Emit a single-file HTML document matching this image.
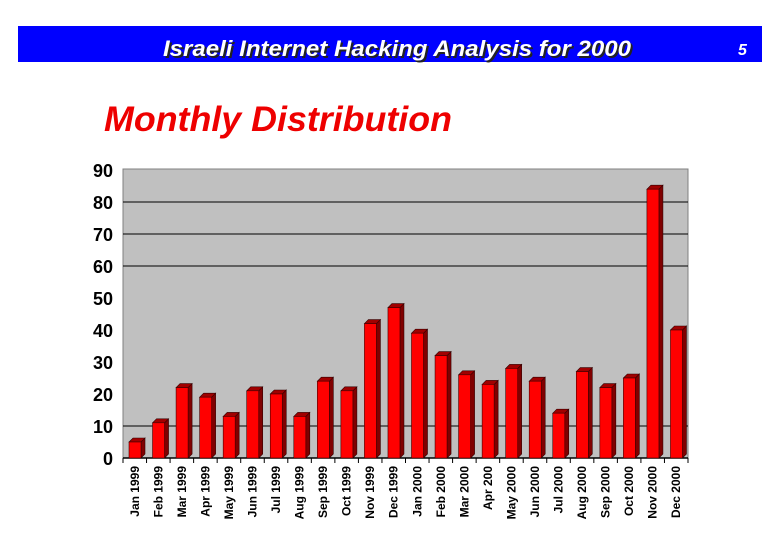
<!DOCTYPE html>
<html><head><meta charset="utf-8">
<style>
body{margin:0;width:780px;height:540px;background:#fff;overflow:hidden;font-family:"Liberation Sans",Arial,sans-serif;}
</style></head>
<body>
<svg width="780" height="540" viewBox="0 0 780 540">
<rect x="18" y="26" width="744" height="36" fill="#0000ff"/>
<text x="165" y="58" font-size="22" font-weight="bold" font-style="italic" fill="#222" textLength="468" lengthAdjust="spacingAndGlyphs">Israeli Internet Hacking Analysis for 2000</text>
<text x="163" y="56" font-size="22" font-weight="bold" font-style="italic" fill="#fff" textLength="468" lengthAdjust="spacingAndGlyphs">Israeli Internet Hacking Analysis for 2000</text>
<text x="738" y="55" font-size="16" font-weight="bold" font-style="italic" fill="#fff">5</text>
<text x="104" y="131" font-size="35" font-weight="bold" font-style="italic" fill="#ee0000" textLength="348" lengthAdjust="spacingAndGlyphs">Monthly Distribution</text>
<g id="chart"></g>
</svg>
<script>
const categories=["Jan 1999","Feb 1999","Mar 1999","Apr 1999","May 1999","Jun 1999","Jul 1999","Aug 1999","Sep 1999","Oct 1999","Nov 1999","Dec 1999","Jan 2000","Feb 2000","Mar 2000","Apr 200","May 2000","Jun 2000","Jul 2000","Aug 2000","Sep 2000","Oct 2000","Nov 2000","Dec 2000"];
const values=[5,11,22,19,13,21,20,13,24,21,42,47,39,32,26,23,28,24,14,27,22,25,84,40];
const yTicks=[0,10,20,30,40,50,60,70,80,90];
const gridTicks=[10,60,70,80];
const NS="http://www.w3.org/2000/svg";
const g=document.getElementById('chart');
const L=123,R=688,T=170,B=458,yMax=90;
const bw=(R-L)/categories.length;
function y(v){return B-(B-T)*v/yMax;}
function x(i){return L+bw*i;}
function mk(t,a,p){const e=document.createElementNS(NS,t);for(const k in a)e.setAttribute(k,a[k]);(p||g).appendChild(e);return e;}
let bg=mk('rect',{x:L,y:T-1,width:R-L,height:B-T+1,fill:'#c0c0c0',stroke:'#808080','stroke-width':1});


gridTicks.forEach(t=>{let l=mk('line',{x1:L,x2:R,y1:y(t),y2:y(t),stroke:'#000','stroke-width':1});

});
let ax=mk('line',{x1:L,x2:R,y1:B,y2:B,stroke:'#000','stroke-width':1.5});


yTicks.forEach(t=>{let tx=mk('text',{x:113,y:y(t)+7,'text-anchor':'end','font-size':18,'font-weight':'bold',fill:'#000'});tx.textContent=t;

});
for(let i=0;i<=categories.length;i++){let tk=mk('line',{x1:x(i),x2:x(i),y1:B,y2:B+5,stroke:'#000'});

}
values.forEach((v,i)=>{
 const bx=x(i)+6,w=12,d=4,top=y(v),gg=mk('g',{});
 
 
 mk('polygon',{points:`${bx+w},${top} ${bx+w+d},${top-d} ${bx+w+d},${B-d} ${bx+w},${B}`,fill:'#800000',stroke:'#300','stroke-width':0.6},gg);
 mk('polygon',{points:`${bx},${top} ${bx+d},${top-d} ${bx+w+d},${top-d} ${bx+w},${top}`,fill:'#a00000',stroke:'#300','stroke-width':0.6},gg);
 mk('rect',{x:bx,y:top,width:w,height:B-top,fill:'#ff0000',stroke:'#400','stroke-width':0.6},gg);
 const cx=x(i)+bw/2+4;
 let tx=mk('text',{x:0,y:0,transform:`translate(${cx},466) rotate(-90)`,'text-anchor':'end','font-size':12,'font-weight':'bold',fill:'#000'});
 tx.textContent=categories[i];
 
 
});
</script>
</body></html>
